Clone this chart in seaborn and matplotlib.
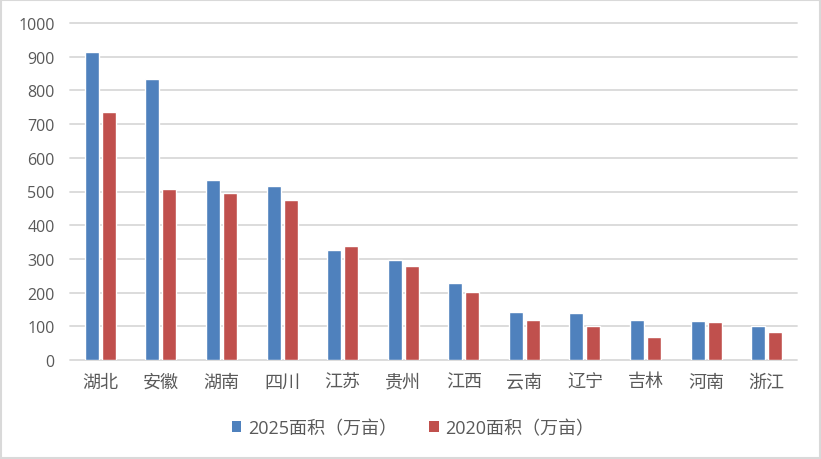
import numpy as np
import pandas as pd
import matplotlib
matplotlib.use("Agg")
import matplotlib.pyplot as plt
import seaborn as sns
from matplotlib.patches import Rectangle, Patch

# Data
provinces = ["湖北", "安徽", "湖南", "四川", "江苏", "贵州", "江西", "云南", "辽宁", "吉林", "河南", "浙江"]
area_2025 = [913, 833, 534, 516, 326, 297, 229, 143, 140, 120, 117, 102]
area_2020 = [735, 507, 495, 474, 338, 279, 202, 120, 100, 69, 114, 84]
series_names = ["2025面积（万亩）", "2020面积（万亩）"]
colors = ["#4F81BD", "#C0504D"]

df = pd.DataFrame({
    "province": provinces * 2,
    "area": area_2025 + area_2020,
    "series": [series_names[0]] * len(provinces) + [series_names[1]] * len(provinces),
})

sns.set_style("white")
plt.rcParams["font.family"] = ["Open Sans", "Noto Sans CJK SC", "DejaVu Sans"]

fig = plt.figure(figsize=(8.21, 4.6), dpi=100)
ax = fig.add_axes([70 / 821, (460 - 361) / 460, 727 / 821, 337 / 460])

sns.barplot(data=df, x="province", y="area", hue="series", palette=colors,
            width=0.56, gap=0.175, saturation=1, legend=False, ax=ax)

ax.set_ylim(0, 1000)
ax.set_yticks(np.arange(0, 1001, 100))
ax.set_xlim(-0.5, len(provinces) - 0.5)
ax.set_xlabel("")
ax.set_ylabel("")
ax.grid(axis="y", color="#D9D9D9", linewidth=1.3)
ax.set_axisbelow(True)
for gl in ax.get_ygridlines():
    gl.set_clip_on(False)
for s in ax.spines.values():
    s.set_visible(False)
ax.tick_params(axis="y", length=0, pad=11, labelsize=11.5, labelcolor="#595959")
ax.tick_params(axis="x", length=0, pad=9, labelsize=13, labelcolor="#595959")

handles = [Patch(facecolor=c, edgecolor="none") for c in colors]
fig.legend(handles, series_names, loc="center", bbox_to_anchor=(413 / 821, 1 - 429 / 460),
           ncol=2, frameon=False, fontsize=13, labelcolor="#595959",
           handlelength=0.55, handleheight=0.55, handletextpad=0.35, columnspacing=1.8)

fig.patches.append(Rectangle((1 / 821, 1 / 460), 819 / 821, 458 / 460, transform=fig.transFigure,
                             fill=False, edgecolor="#D9D9D9", linewidth=1.5))

fig.savefig("out.png", dpi=100)
